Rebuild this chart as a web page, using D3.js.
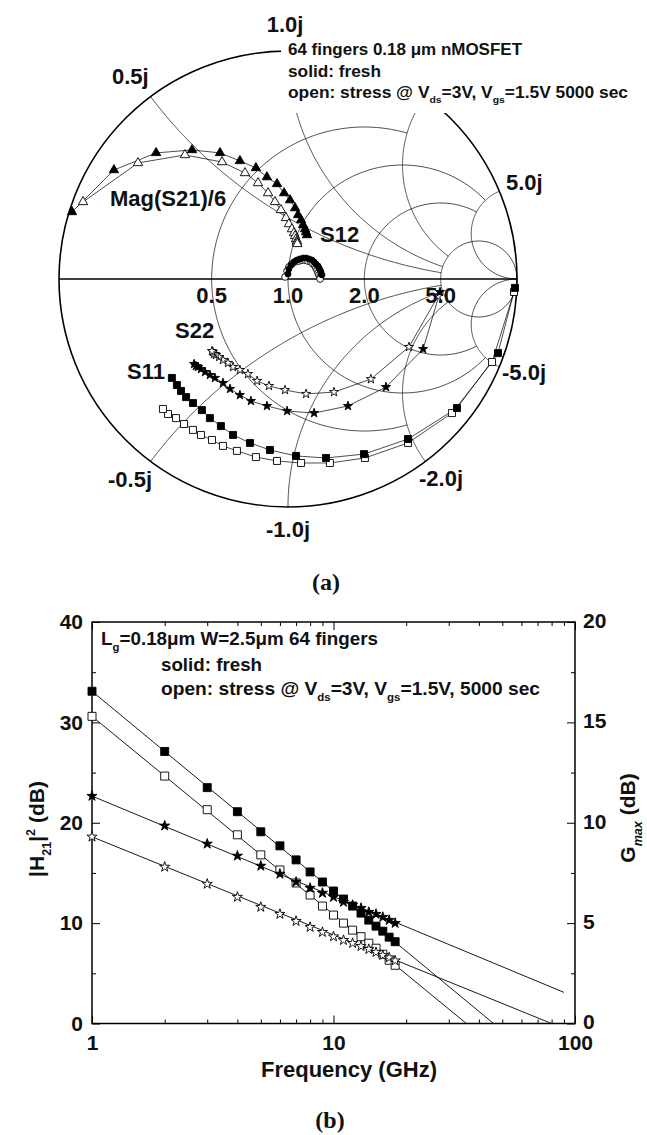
<!DOCTYPE html>
<html>
<head>
<meta charset="utf-8">
<script src="https://cdn.jsdelivr.net/npm/d3@7"></script>
<style>
  body { margin: 0; background: #fff; }
  svg { display: block; }
  text { font-family: "Liberation Sans", Arial, sans-serif; font-weight: bold; fill: #111; }
</style>
</head>
<body>
<svg id="chart" width="647" height="1135"></svg>
<script>
// ---------- (a) Smith chart, reflection coefficients [re, im], 1..18 GHz ----------
const s21Fresh = [[-0.943,0.294],[-0.760,0.478],[-0.576,0.553],[-0.419,0.566],[-0.297,0.553],[-0.210,0.518],
  [-0.140,0.487],[-0.092,0.447],[-0.048,0.417],[-0.017,0.377],[0.009,0.346],[0.031,0.311],
  [0.044,0.281],[0.057,0.259],[0.066,0.237],[0.074,0.219],[0.079,0.206],[0.083,0.193]];
const s21Stress = [[-0.895,0.338],[-0.655,0.509],[-0.450,0.544],[-0.288,0.513],[-0.188,0.465],[-0.131,0.421],
  [-0.087,0.377],[-0.057,0.338],[-0.031,0.303],[-0.009,0.268],[0.004,0.241],[0.017,0.219],
  [0.026,0.202],[0.031,0.189],[0.035,0.175],[0.039,0.167],[0.039,0.160],[0.041,0.154]];
const s12Fresh = [[0.000,0.022],[0.004,0.044],[0.013,0.061],[0.026,0.075],[0.039,0.083],[0.052,0.088],
  [0.066,0.092],[0.079,0.092],[0.092,0.088],[0.105,0.083],[0.114,0.075],[0.122,0.066],
  [0.131,0.057],[0.135,0.048],[0.140,0.039],[0.144,0.031],[0.144,0.022],[0.148,0.018]];
const s12Stress = [[-0.013,0.009],[-0.004,0.035],[0.004,0.053],[0.017,0.066],[0.031,0.075],[0.048,0.079],
  [0.061,0.083],[0.074,0.083],[0.087,0.079],[0.100,0.075],[0.109,0.066],[0.118,0.057],
  [0.122,0.048],[0.127,0.039],[0.131,0.026],[0.135,0.018],[0.140,0.009],[0.140,0.000]];
const s11Fresh = [[0.991,-0.039],[0.917,-0.325],[0.738,-0.566],[0.524,-0.702],[0.332,-0.768],[0.166,-0.785],
  [0.035,-0.776],[-0.079,-0.750],[-0.166,-0.719],[-0.240,-0.684],[-0.293,-0.645],[-0.341,-0.610],
  [-0.376,-0.575],[-0.415,-0.544],[-0.445,-0.518],[-0.467,-0.491],[-0.485,-0.465],[-0.507,-0.434]];
const s11Stress = [[0.987,-0.057],[0.891,-0.364],[0.716,-0.588],[0.524,-0.719],[0.336,-0.785],[0.183,-0.807],
  [0.057,-0.807],[-0.048,-0.798],[-0.140,-0.781],[-0.223,-0.754],[-0.284,-0.732],[-0.332,-0.706],
  [-0.380,-0.684],[-0.415,-0.662],[-0.454,-0.636],[-0.489,-0.610],[-0.524,-0.592],[-0.546,-0.570]];
const s22Fresh = [[0.664,-0.057],[0.590,-0.307],[0.428,-0.474],[0.262,-0.557],[0.114,-0.588],[-0.004,-0.579],
  [-0.092,-0.557],[-0.162,-0.535],[-0.210,-0.509],[-0.253,-0.482],[-0.284,-0.456],[-0.319,-0.434],
  [-0.341,-0.421],[-0.362,-0.408],[-0.380,-0.395],[-0.393,-0.386],[-0.402,-0.382],[-0.410,-0.373]];
const s22Stress = [[0.655,-0.075],[0.528,-0.298],[0.362,-0.439],[0.201,-0.496],[0.079,-0.504],[-0.013,-0.487],
  [-0.083,-0.469],[-0.135,-0.447],[-0.175,-0.417],[-0.210,-0.399],[-0.240,-0.386],[-0.262,-0.368],
  [-0.284,-0.355],[-0.301,-0.342],[-0.314,-0.333],[-0.323,-0.329],[-0.328,-0.320],[-0.332,-0.316]];

// grid values and where each grid line stops
const resistanceCircles = [0.5, 1, 2, 5];
const resistanceLimit = [2, 5, 5, Infinity];
const reactanceArcs = [0.5, 1, 2, 5];
const reactanceLimit = [5, 5, 5, Infinity];
const resistanceLabels = ["0.5", "1.0", "2.0", "5.0"];

// ---------- (b) gain vs frequency ----------
const freqGHz = [1, 2, 3, 4, 5, 6, 7, 8, 9, 10, 11, 12, 13, 14, 15, 16, 17, 18];
const h21Fresh = [33.1, 27.1, 23.5, 21.1, 19.1, 17.7, 16.3, 15.1, 14.1, 13.2, 12.4, 11.7, 11.0, 10.3, 9.7, 9.2, 8.6, 8.15];
const h21Stress = [30.6, 24.65, 21.3, 18.8, 16.8, 15.3, 14.0, 12.8, 11.7, 10.8, 10.0, 9.3, 8.65, 8.0, 7.5, 6.9, 6.3, 5.8];
const gmaxFresh = [11.33, 9.85, 8.95, 8.35, 7.85, 7.45, 7.05, 6.75, 6.5, 6.3, 6.05, 5.9, 5.75, 5.55, 5.45, 5.3, 5.15, 5.0];
const gmaxStress = [9.3, 7.8, 6.95, 6.3, 5.8, 5.45, 5.1, 4.8, 4.55, 4.33, 4.15, 4.0, 3.85, 3.7, 3.55, 3.4, 3.28, 3.13];
// extrapolated fit lines [GHz, dB]
const h21FreshFit = [[1, 33.1], [46, 0]];
const h21StressFit = [[1, 30.6], [35.5, 0]];
const gmaxFreshFit = [[1, 11.33], [90, 1.55]];
const gmaxStressFit = [[1, 9.3], [80, 0]];
const leftTicks = [0, 10, 20, 30, 40];
const rightTicks = [0, 5, 10, 15, 20];
const freqTicks = [1, 10, 100];

const svg = d3.select("#chart");
svg.append("rect").attr("width", 647).attr("height", 1135).attr("fill", "#fff");

// text with sub / superscripts; parts are strings or [string, kind]
function richText(g, x, y, size, parts) {
  const t = g.append("text").attr("x", x).attr("y", y).style("font-size", size + "px");
  let shift = 0;
  parts.forEach((p) => {
    const [s, kind] = Array.isArray(p) ? p : [p, null];
    const target = kind && kind.startsWith("sub") ? size * 0.34 : kind === "sup" ? -size * 0.45 : 0;
    const ts = t.append("tspan").attr("dy", target - shift).text(s);
    if (kind) ts.style("font-size", size * 0.6 + "px");
    if (kind === "subit") ts.style("font-style", "italic");
    shift = target;
  });
  return t;
}

// ================= (a) =================
const sx = d3.scaleLinear().domain([-1, 1]).range([59, 517]);
const sy = d3.scaleLinear().domain([-1, 1]).range([507, 51]);
const gamma = (r, x) => {
  const d = (r + 1) * (r + 1) + x * x;
  return [(r * r - 1 + x * x) / d, (2 * x) / d];
};
const smithLine = d3.line().x((d) => sx(d[0])).y((d) => sy(d[1]));

const grid = svg.append("g").attr("fill", "none").attr("stroke", "#000").attr("stroke-width", 0.7);

resistanceCircles.forEach((r, i) => {
  const a = Math.atan(resistanceLimit[i]);
  const pts = d3.range(0, 301).map((k) => gamma(r, Math.tan(-a + (2 * a * k) / 300)));
  grid.append("path").attr("d", smithLine(pts));
});

reactanceArcs.forEach((x, i) => {
  const a = Math.atan(reactanceLimit[i]);
  [x, -x].forEach((xv) => {
    const pts = d3.range(0, 301).map((k) => gamma(Math.tan((a * k) / 300), xv));
    grid.append("path").attr("d", smithLine(pts));
  });
});

grid.append("ellipse")
  .attr("cx", sx(0)).attr("cy", sy(0))
  .attr("rx", sx(1) - sx(0)).attr("ry", sy(-1) - sy(0))
  .attr("stroke-width", 1.6);
grid.append("line")
  .attr("x1", sx(-1)).attr("x2", sx(1))
  .attr("y1", sy(0)).attr("y2", sy(0))
  .attr("stroke-width", 1.6);

// legend block sits on a white patch over the grid
svg.append("rect").attr("x", 281).attr("y", 37).attr("width", 366).attr("height", 76).attr("fill", "#fff");
const legA = svg.append("g");
richText(legA, 288, 55, 16, ["64 fingers 0.18 \u03bcm nMOSFET"]).attr("textLength", 234).attr("lengthAdjust", "spacingAndGlyphs");
richText(legA, 288, 77, 16, ["solid: fresh"]).attr("textLength", 93).attr("lengthAdjust", "spacingAndGlyphs");
richText(legA, 288, 98, 16, ["open: stress @ V", ["ds", "sub"], "=3V, V", ["gs", "sub"], "=1.5V 5000 sec"])
  .attr("textLength", 340).attr("lengthAdjust", "spacingAndGlyphs");

const smithSeries = [
  { data: s21Stress, shape: d3.symbolTriangle, size: 38, fill: "#fff" },
  { data: s21Fresh, shape: d3.symbolTriangle, size: 38, fill: "#000" },
  { data: s12Stress, shape: d3.symbolCircle, size: 36, fill: "#fff" },
  { data: s12Fresh, shape: d3.symbolCircle, size: 28, fill: "#000" },
  { data: s11Stress, shape: d3.symbolSquare, size: 49, fill: "#fff" },
  { data: s11Fresh, shape: d3.symbolSquare, size: 49, fill: "#000" },
  { data: s22Stress, shape: d3.symbolStar, size: 26, fill: "#fff" },
  { data: s22Fresh, shape: d3.symbolStar, size: 26, fill: "#000" },
];

const dataA = svg.append("g");
smithSeries.forEach((s) => {
  dataA.append("path").attr("d", smithLine(s.data))
    .attr("fill", "none").attr("stroke", "#000").attr("stroke-width", 0.7);
});
smithSeries.forEach((s) => {
  dataA.append("g").selectAll("path").data(s.data).join("path")
    .attr("transform", (d) => `translate(${sx(d[0])},${sy(d[1])})`)
    .attr("d", d3.symbol(s.shape, s.size))
    .attr("fill", s.fill).attr("stroke", "#000").attr("stroke-width", 0.9);
});

// chart labels
const labA = svg.append("g").style("font-size", "22px");
resistanceCircles.forEach((r, i) => {
  const g = gamma(r, 0);
  labA.append("text").attr("x", sx(g[0])).attr("y", 303).attr("text-anchor", "middle").text(resistanceLabels[i]);
});
labA.append("text").attr("x", 112).attr("y", 84).text("0.5j");
labA.append("text").attr("x", 285).attr("y", 32).attr("text-anchor", "middle").text("1.0j");
labA.append("text").attr("x", 506).attr("y", 190).text("5.0j");
labA.append("text").attr("x", 502).attr("y", 380).text("-5.0j");
labA.append("text").attr("x", 419).attr("y", 486).text("-2.0j");
labA.append("text").attr("x", 108).attr("y", 487).text("-0.5j");
labA.append("text").attr("x", 288).attr("y", 537).attr("text-anchor", "middle").text("-1.0j");
labA.append("text").attr("x", 110).attr("y", 206).text("Mag(S21)/6");
labA.append("text").attr("x", 320).attr("y", 242).text("S12");
labA.append("text").attr("x", 175).attr("y", 338).text("S22");
labA.append("text").attr("x", 127).attr("y", 379).text("S11");

svg.append("text").attr("x", 326).attr("y", 590).attr("text-anchor", "middle")
  .style("font-family", '"Liberation Serif", "Times New Roman", serif').style("font-size", "24px")
  .text("(a)");

// ================= (b) =================
const px = d3.scaleLog().domain([1, 100]).range([92, 575]);
const pyL = d3.scaleLinear().domain([0, 40]).range([1023.5, 622]);
const pyR = d3.scaleLinear().domain([0, 20]).range([1023.5, 622]);

const styleAxis = (g) => {
  g.select(".domain").remove();
  g.attr("font-family", null).attr("font-size", null);
  g.selectAll("line").attr("stroke", "#000").attr("stroke-width", 1);
  g.selectAll("text").style("font-size", "21px").attr("fill", "#111");
};

svg.append("g").attr("transform", "translate(92,0)")
  .call(d3.axisLeft(pyL).tickValues(leftTicks).tickSizeInner(-8).tickSizeOuter(0).tickPadding(9).tickFormat(d3.format("d")))
  .call(styleAxis);
svg.append("g").attr("transform", "translate(92,0)")
  .call(d3.axisLeft(pyL).tickValues([5, 15, 25, 35]).tickSizeInner(-4).tickSizeOuter(0).tickFormat(""))
  .call(styleAxis);
svg.append("g").attr("transform", "translate(575,0)")
  .call(d3.axisRight(pyR).tickValues(rightTicks).tickSizeInner(-8).tickSizeOuter(0).tickPadding(8).tickFormat(d3.format("d")))
  .call(styleAxis)
  .call((g) => g.selectAll("text").attr("dy", "0.25em"));
svg.append("g").attr("transform", "translate(575,0)")
  .call(d3.axisRight(pyR).tickValues([2.5, 7.5, 12.5, 17.5]).tickSizeInner(-4).tickSizeOuter(0).tickFormat(""))
  .call(styleAxis);

const minorFreq = [2, 3, 4, 5, 6, 7, 8, 9, 20, 30, 40, 50, 60, 70, 80, 90];
svg.append("g").attr("transform", "translate(0,1023.5)")
  .call(d3.axisBottom(px).tickValues(freqTicks).tickSizeInner(-8).tickSizeOuter(0).tickPadding(12).tickFormat(d3.format("d")))
  .call(styleAxis);
svg.append("g").attr("transform", "translate(0,1023.5)")
  .call(d3.axisBottom(px).tickValues(minorFreq).tickSizeInner(-4).tickSizeOuter(0).tickFormat(""))
  .call(styleAxis);
svg.append("g").attr("transform", "translate(0,622)")
  .call(d3.axisTop(px).tickValues(freqTicks).tickSizeInner(-8).tickSizeOuter(0).tickFormat(""))
  .call(styleAxis);
svg.append("g").attr("transform", "translate(0,622)")
  .call(d3.axisTop(px).tickValues(minorFreq).tickSizeInner(-4).tickSizeOuter(0).tickFormat(""))
  .call(styleAxis);

svg.append("rect").attr("x", 92).attr("y", 622).attr("width", 575 - 92).attr("height", 1023.5 - 622)
  .attr("fill", "none").attr("stroke", "#000").attr("stroke-width", 1.5);

// fit lines
const lineL = d3.line().x((d) => px(d[0])).y((d) => pyL(d[1]));
const lineR = d3.line().x((d) => px(d[0])).y((d) => pyR(d[1]));
[[h21FreshFit, lineL], [h21StressFit, lineL], [gmaxFreshFit, lineR], [gmaxStressFit, lineR]].forEach(([d, ln]) => {
  svg.append("path").attr("d", ln(d)).attr("fill", "none").attr("stroke", "#000").attr("stroke-width", 0.9);
});

const gainSeries = [
  { data: h21Stress, y: pyL, shape: d3.symbolSquare, size: 64, fill: "#fff" },
  { data: h21Fresh, y: pyL, shape: d3.symbolSquare, size: 64, fill: "#000" },
  { data: gmaxStress, y: pyR, shape: d3.symbolStar, size: 32, fill: "#fff" },
  { data: gmaxFresh, y: pyR, shape: d3.symbolStar, size: 32, fill: "#000" },
];
gainSeries.forEach((s) => {
  svg.append("g").selectAll("path").data(s.data).join("path")
    .attr("transform", (d, i) => `translate(${px(freqGHz[i])},${s.y(d)})`)
    .attr("d", d3.symbol(s.shape, s.size))
    .attr("fill", s.fill).attr("stroke", "#000").attr("stroke-width", 0.9);
});

const legB = svg.append("g");
richText(legB, 101, 645, 18, ["L", ["g", "sub"], "=0.18\u03bcm W=2.5\u03bcm 64 fingers"]).attr("textLength", 277).attr("lengthAdjust", "spacingAndGlyphs");
richText(legB, 161, 671, 18, ["solid: fresh"]).attr("textLength", 101).attr("lengthAdjust", "spacingAndGlyphs");
richText(legB, 161, 695, 18, ["open: stress @ V", ["ds", "sub"], "=3V, V", ["gs", "sub"], "=1.5V, 5000 sec"])
  .attr("textLength", 379).attr("lengthAdjust", "spacingAndGlyphs");

svg.append("text").attr("x", 349).attr("y", 1077).attr("text-anchor", "middle").style("font-size", "22px").text("Frequency (GHz)");
richText(svg.append("g").attr("transform", "translate(44,829) rotate(-90)"), 0, 0, 21,
  ["|H", ["21", "sub"], "|", ["2", "sup"], " (dB)"]).attr("text-anchor", "middle");
richText(svg.append("g").attr("transform", "translate(635,818) rotate(-90)"), 0, 0, 21,
  ["G", ["max", "subit"], " (dB)"]).attr("text-anchor", "middle");

svg.append("text").attr("x", 330).attr("y", 1128).attr("text-anchor", "middle")
  .style("font-family", '"Liberation Serif", "Times New Roman", serif').style("font-size", "24px")
  .text("(b)");
</script>
</body>
</html>
